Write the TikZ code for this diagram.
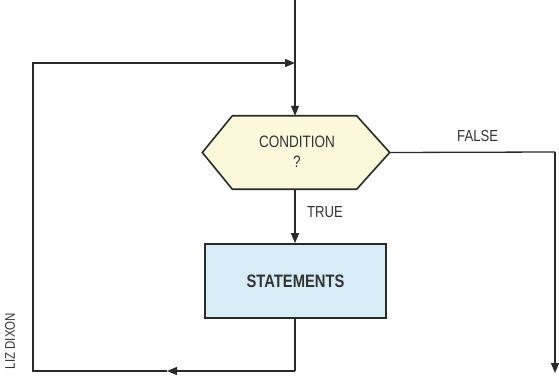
\documentclass[tikz,border=0pt]{standalone}
\usepackage{fontspec}
\setmainfont{Liberation Sans}
\newfontfamily\labfont[FakeStretch=0.82]{Liberation Sans}
\usetikzlibrary{arrows.meta,calc}
\definecolor{linec}{HTML}{2A2A2A}
\definecolor{hexfill}{HTML}{FCF8DC}
\definecolor{boxfill}{HTML}{D6EDF7}
\definecolor{textc}{HTML}{333333}
\tikzset{
  flow/.style={draw=linec, line width=1.3pt},
  arr/.style={flow, -{Triangle[length=10pt,width=8pt]}},
  lab/.style={font=\labfont\fontsize{16}{18}\selectfont, text=textc, inner sep=0pt},
  condbox/.style={draw=none, minimum width=187pt, minimum height=73pt, inner sep=0pt, align=center},
  stmtbox/.style={draw=linec, line width=1.6pt, fill=boxfill, minimum width=181pt, minimum height=74pt, inner sep=0pt,
    font=\labfont\bfseries\fontsize{18}{20}\selectfont, text=textc}
}
\begin{document}
\begin{tikzpicture}[x=1pt,y=-1pt]
\useasboundingbox (0,0) rectangle (559,377);
% hexagon (condition)
\node[condbox] (cond) at (296,152.5) {};
\filldraw[flow, fill=hexfill, line width=1.6pt, line join=miter]
  (cond.west) -- ($(cond.north west)+(30,0)$) -- ($(cond.north east)+(-33,0)$) -- (cond.east)
  -- ($(cond.south east)+(-33,0)$) -- ($(cond.south west)+(30,0)$) -- cycle;
\node[lab, font=\labfont\fontsize{16.5}{20}\selectfont, align=center] (condtext) at (297,152) {CONDITION\\?};
% statements
\node[stmtbox] (stat) at (295.5,281) {STATEMENTS};
% coordinates
\coordinate (top) at (295,0);
\coordinate (tin) at (295,63);
\coordinate (tl) at (33,63);
\coordinate (bl) at (33,371);
\coordinate (bmid) at (167,371);
\coordinate (br) at (295,371);
\coordinate (fr) at (555,152);
\coordinate (fend) at (555,373);
% connectors
\draw[arr] (top) -- (cond.north -| top);
\draw[arr] (cond.south -| top) -- (stat.north -| top);
\draw[flow] (cond.east) -- (fr);
\draw[arr] (fr) -- (fend);
\draw[flow] (stat.south -| br) -- (br);
\draw[arr] (br) -- (bmid);
\draw[arr] (bmid) -- (bl) -- (tl) -- (tin);
% labels
\node[lab, anchor=west] (truelab) at (307,212) {TRUE};
\node[lab, anchor=west] (falselab) at (457,136) {FALSE};
\node[lab, font=\labfont\fontsize{14}{15}\selectfont, rotate=90] (credit) at (10,341) {LIZ DIXON};
\end{tikzpicture}
\end{document}
